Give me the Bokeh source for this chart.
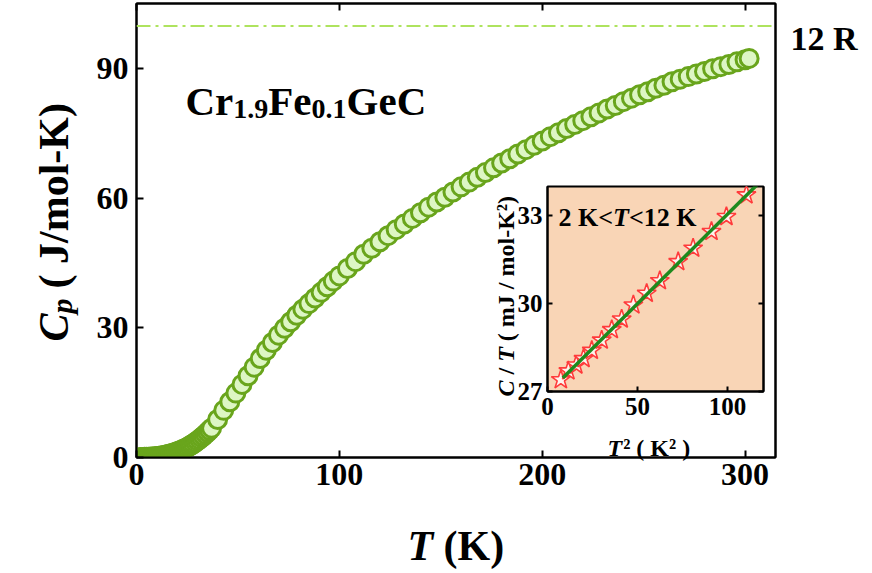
from bokeh.plotting import figure
from bokeh.models import (Range1d, LinearAxis, FixedTicker, Label, Span,
                          CustomJSTickFormatter, GridBox)
from bokeh.embed import file_html
from bokeh.resources import INLINE
import numpy as np

FONT = "Liberation Serif"

# ---------------- data ----------------
T_low = [2, 3, 4, 5, 6, 7, 8, 9, 10, 11, 12, 13, 14, 15, 16, 17, 18, 19, 20,
         21, 22, 23, 24, 25, 26, 27, 28, 29, 30, 31, 32, 33, 34, 35, 36, 37]
Cp_low = [0.01, 0.02, 0.03, 0.05, 0.07, 0.10, 0.13, 0.17, 0.22, 0.28, 0.35,
          0.43, 0.52, 0.62, 0.74, 0.87, 1.01, 1.16, 1.32, 1.49, 1.68, 1.88,
          2.10, 2.34, 2.60, 2.88, 3.18, 3.50, 3.84, 4.20, 4.58, 4.98, 5.40,
          5.84, 6.30, 6.78]

T_high = [40, 43, 46, 49, 52, 55, 58, 61, 64, 67, 70, 73, 76, 79, 82, 85, 88,
          91, 94, 97, 100, 104, 108, 112, 116, 120, 124, 128, 132, 136, 140,
          144, 148, 152, 156, 160, 164, 168, 172, 176, 180, 184, 188, 192, 196,
          200, 204, 208, 212, 216, 220, 224, 228, 232, 236, 240, 244, 248, 252,
          256, 260, 264, 268, 272, 276, 280, 284, 288, 292, 296, 300, 302]
Cp_high = [8.8, 10.9, 12.9, 14.9, 16.9, 18.9, 20.9, 22.9, 24.8, 26.6, 28.3,
           29.9, 31.4, 32.9, 34.3, 35.6, 36.9, 38.2, 39.5, 40.8, 42.0, 43.7,
           45.3, 47.0, 48.4, 49.9, 51.3, 52.7, 54.0, 55.3, 56.6, 57.9, 59.1,
           60.2, 61.4, 62.6, 63.7, 64.8, 65.9, 67.0, 68.1, 69.1, 70.2, 71.2,
           72.2, 73.2, 74.2, 75.1, 76.1, 77.0, 77.9, 78.8, 79.7, 80.6, 81.4,
           82.3, 83.1, 83.9, 84.6, 85.4, 86.1, 86.9, 87.5, 88.1, 88.7, 89.3,
           89.9, 90.4, 90.9, 91.5, 92.0, 92.3]

R12 = 99.8            # 12 R (J/mol-K)
R12_text_at = 97.0    # where the "12 R" text sits on the right axis

x_ticks = [0, 100, 200, 300]
y_ticks = [0, 30, 60, 90]

# inset: C/T vs T^2, 2 K < T < 12 K
T2_inset = [7.4, 11.6, 16.0, 20.0, 24.6, 30.1, 35.7, 41.2, 47.7, 55.1, 62.4,
            72.6, 80.9, 91.1, 99.4, 110.5]
CT_inset = [27.40, 27.70, 27.90, 28.12, 28.40, 28.75, 29.11, 29.47, 29.95,
            30.35, 30.78, 31.43, 31.89, 32.46, 32.97, 33.71]
fit_T2_span = [8.5, 117.0]
ix_ticks = [0, 50, 100]
iy_ticks = [27, 30, 33]

W, H = 872, 573   # whole page

# ---------------- helpers ----------------
def style_axis(ax, size, standoff, tick_in):
    ax.axis_line_width = 2
    ax.axis_line_color = "black"
    ax.major_tick_in = tick_in
    ax.major_tick_out = 0
    ax.major_tick_line_width = 2
    ax.major_tick_line_color = "black"
    ax.minor_tick_line_color = None
    ax.major_label_text_font = FONT
    ax.major_label_text_font_style = "bold"
    ax.major_label_text_font_size = f"{size}px"
    ax.major_label_text_color = "black"
    ax.major_label_standoff = standoff


def lab(fig, x, y, text, size, style="bold", xo=0, yo=0, angle=0.0):
    fig.add_layout(Label(x=x, y=y, x_offset=xo, y_offset=yo, text=text,
                         text_font=FONT, text_font_style=style,
                         text_font_size=f"{size}px", text_color="black",
                         text_align="left", text_baseline="alphabetic",
                         angle=angle))


# ---------------- main figure ----------------
p = figure(frame_width=639, frame_height=454,
           min_border_left=136, min_border_right=97,
           min_border_top=3, min_border_bottom=116,
           x_range=Range1d(0, 315), y_range=Range1d(0, 105),
           output_backend="svg", toolbar_location=None,
           background_fill_color="white", border_fill_color="white",
           outline_line_color="black", outline_line_width=2,
           frame_align=False)
p.grid.visible = False

p.xaxis[0].ticker = FixedTicker(ticks=x_ticks, minor_ticks=[])
p.yaxis[0].ticker = FixedTicker(ticks=y_ticks, minor_ticks=[])
style_axis(p.xaxis[0], 32, 6, 7)
style_axis(p.yaxis[0], 32, 8, 7)

top = LinearAxis(ticker=FixedTicker(ticks=x_ticks, minor_ticks=[]),
                 formatter=CustomJSTickFormatter(code="return ''"))
style_axis(top, 1, 0, 7)
p.add_layout(top, "above")

right = LinearAxis(ticker=FixedTicker(ticks=[R12_text_at], minor_ticks=[]),
                   major_label_overrides={R12_text_at: "12 R"})
style_axis(right, 34, 15, 0)
right.major_tick_line_color = None
p.add_layout(right, "right")

p.add_layout(Span(location=R12, dimension="width", line_color="#AEE35E",
                  line_width=2, line_dash="14 5 3 5"))

T_all = T_low + T_high
Cp_all = Cp_low + Cp_high
p.scatter(T_all, Cp_all, size=18, fill_color="#DDF6C4",
          line_color="#69A51C", line_width=3)

# compound label Cr1.9Fe0.1GeC
big, sub = 41, 28
x0, yb, ys = 49, 357, 349
pieces = [("Cr", big, yb, 0.722 + 0.444), ("1.9", sub, ys, 1.25),
          ("Fe", big, yb, 0.611 + 0.444), ("0.1", sub, ys, 1.25),
          ("GeC", big, yb, 0.778 + 0.444 + 0.722)]
cx = x0
for txt, sz, yy, w in pieces:
    lab(p, 0, 0, txt, sz, "bold", cx, yy)
    cx += w * sz

# ---------------- inset ----------------
q = figure(frame_width=216, frame_height=205,
           min_border_left=67, min_border_right=8,
           min_border_top=4, min_border_bottom=62,
           x_range=Range1d(0, 120), y_range=Range1d(27, 34),
           output_backend="svg", toolbar_location=None,
           background_fill_color="#F9D5B6", border_fill_color=None,
           outline_line_color="black", outline_line_width=2,
           frame_align=False)
q.grid.visible = False
q.xaxis[0].ticker = FixedTicker(ticks=ix_ticks, minor_ticks=[])
q.yaxis[0].ticker = FixedTicker(ticks=iy_ticks, minor_ticks=[])
style_axis(q.xaxis[0], 25, 6, 5)
style_axis(q.yaxis[0], 25, 5, 5)
qr = LinearAxis(ticker=FixedTicker(ticks=iy_ticks, minor_ticks=[]),
                formatter=CustomJSTickFormatter(code="return ''"))
style_axis(qr, 1, 0, 5)
q.add_layout(qr, "right")

q.scatter(T2_inset, CT_inset, marker="star", size=20, fill_color="#FFF3EE",
          line_color="#FF3B3B", line_width=1.6)
slope, icpt = np.polyfit(T2_inset, CT_inset, 1)
fx = np.array(fit_T2_span)
q.line(fx, icpt + slope * fx, line_color="#1E8A1E", line_width=3.5)

s = 26
lab(q, 0, 27, "2 K<", s, "bold", 11, 174)
lab(q, 0, 27, "T", s, "bold italic", 11 + 2.098 * s, 174)
lab(q, 0, 27, "<12 K", s, "bold", 11 + 2.098 * s + 0.611 * s, 174)

q.margin = (182, 0, 0, 480)

# ---------------- text overlay (axis titles) ----------------
ov = figure(frame_width=W, frame_height=H, min_border_left=0,
            min_border_right=0, min_border_top=0, min_border_bottom=0,
            x_range=Range1d(0, W), y_range=Range1d(0, H),
            x_axis_type=None, y_axis_type=None,
            output_backend="svg", toolbar_location=None,
            background_fill_color=None, border_fill_color=None,
            outline_line_color=None, frame_align=False)
ov.grid.visible = False


def olab(px, py, text, size, style="bold", angle=0.0):
    # px, py: page position (left, top) of the text anchor
    lab(ov, px, H - py, text, size, style, 0, 0, angle)


ang = np.pi / 2
# main x title: T (K)
olab(407, 545, "T", 42, "bold italic")
olab(443, 545, "(K)", 42, "bold")
# main y title: Cp ( J/mol-K)
olab(53, 341, "C", 42, "bold italic", ang)
olab(61, 313, "p", 30, "bold italic", ang)
olab(53, 288, "( J/mol-K)", 42, "bold", ang)

# inset x title
s = 24
olab(607, 447, "T", s, "bold italic")
olab(607 + 0.611 * s + 1, 447, "\u00b2 ( K\u00b2 )", s, "bold")
# inset y title
yy = 396
olab(505, yy, "C", s, "bold italic", ang)
yy -= 0.667 * s + 0.25 * s
olab(505, yy, "/", s, "bold", ang)
yy -= 0.278 * s + 0.25 * s
olab(505, yy, "T", s, "bold italic", ang)
yy -= 0.611 * s + 0.25 * s
olab(505, yy, "( mJ / mol-K\u00b2)", s, "bold", ang)

layout = GridBox(children=[(p, 0, 0), (q, 0, 0), (ov, 0, 0)])
open("out.html", "w").write(file_html(layout, INLINE))
